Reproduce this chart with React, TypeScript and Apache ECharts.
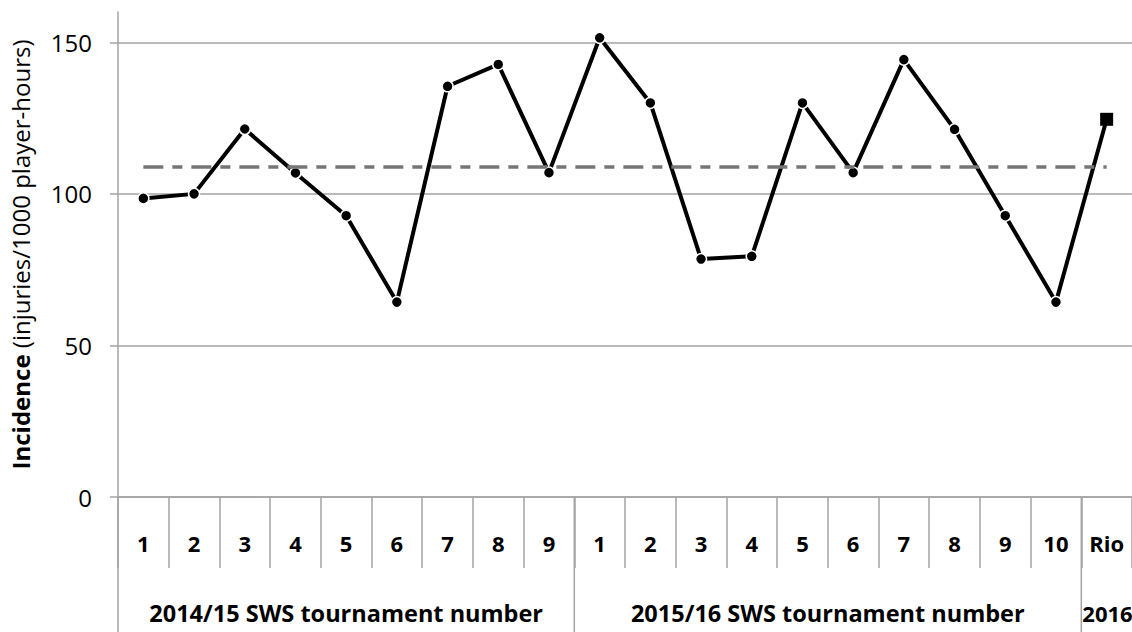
import React, { useEffect, useRef } from "react";
import * as echarts from "echarts";

const categories = ["1", "2", "3", "4", "5", "6", "7", "8", "9", "1", "2", "3", "4", "5", "6", "7", "8", "9", "10", "Rio"];
const incidence = [98.5, 100, 121.4, 106.9, 92.8, 64.3, 135.5, 142.7, 107, 151.5, 130, 78.5, 79.4, 130, 107, 144.3, 121.3, 92.8, 64.3, 124.6];
const meanIncidence = 109;
const groupLabels = ["2014/15 SWS tournament number", "2015/16 SWS tournament number", "2016"];
const groupSizes = [9, 10, 1];
const yTicks = [0, 50, 100, 150];

const FONT = '"Open Sans", "DejaVu Sans", sans-serif';
const GRID = "#a3a3a3";

export default function App() {
  const ref = useRef<HTMLDivElement>(null);
  useEffect(() => {
    if (!ref.current) return;
    const chart = echarts.init(ref.current, null, { renderer: "svg" });
    const lastIdx = incidence.length - 1;
    const seriesData = incidence.map((v, i) =>
      i === lastIdx ? { value: v, symbol: "rect", symbolSize: 13, itemStyle: { borderWidth: 0 } } : v
    );
    const option: any = {
      animation: false,
      backgroundColor: "#fff",
      grid: { left: 118, top: 12, width: 1020, height: 485, containLabel: false },
      xAxis: {
        type: "category",
        data: categories,
        boundaryGap: true,
        axisLine: { show: true, lineStyle: { color: GRID, width: 1.5 } },
        axisTick: { show: true, interval: 0, length: 71, lineStyle: { color: GRID, width: 1.5 } },
        axisLabel: { interval: 0, margin: 35, color: "#000", fontFamily: FONT, fontWeight: "bold", fontSize: 22 },
        splitLine: { show: false },
      },
      yAxis: {
        type: "value",
        min: 0,
        max: 160,
        interval: 50,
        name: "{b|Incidence} {n|(injuries/1000 player-hours)}",
        nameLocation: "middle",
        nameRotate: 90,
        nameGap: 86,
        nameTextStyle: {
          fontFamily: FONT,
          fontSize: 24,
          color: "#000",
          rich: {
            b: { fontFamily: FONT, fontSize: 24, fontWeight: "bold", color: "#000" },
            n: { fontFamily: FONT, fontSize: 24, color: "#000" },
          },
        },
        axisLine: { show: true, lineStyle: { color: GRID, width: 1.5 } },
        axisTick: { show: true, length: 8, customValues: yTicks, lineStyle: { color: GRID, width: 1.5 } },
        axisLabel: {
          margin: 26,
          color: "#000",
          fontFamily: FONT,
          fontSize: 24,
          customValues: yTicks,
          formatter: (v: number) => (yTicks.indexOf(v) >= 0 ? String(v) : ""),
        },
        splitLine: { show: true, lineStyle: { color: [GRID, GRID, GRID, GRID, "rgba(0,0,0,0)"], width: 1.5 } },
      },
      series: [
        {
          type: "line",
          data: seriesData,
          symbol: "circle",
          symbolSize: 11,
          lineStyle: { color: "#000", width: 4 },
          itemStyle: { color: "#000", borderColor: "#fff", borderWidth: 1.5 },
          z: 3,
          markLine: {
            silent: true,
            symbol: ["none", "none"],
            label: { show: false },
            lineStyle: { color: "#767676", width: 3.5, type: [20, 9, 10, 9] },
            data: [[{ coord: [0, meanIncidence] }, { coord: [lastIdx, meanIncidence] }]],
          },
        },
      ],
    };
    chart.setOption(option);

    const px = (i: number) => chart.convertToPixel({ xAxisIndex: 0 }, i) as number;
    const y0 = chart.convertToPixel({ yAxisIndex: 0 }, 0) as number;
    const bottom = 632;
    const graphics: any[] = [];
    let start = 0;
    const step = px(1) - px(0);
    const leftEdge = px(0) - step / 2;
    graphics.push({ type: "line", shape: { x1: leftEdge, y1: y0, x2: leftEdge, y2: bottom }, style: { stroke: GRID, lineWidth: 1.5 } });
    groupSizes.forEach((n, g) => {
      const l = px(start) - step / 2;
      const r = px(start + n - 1) + step / 2;
      if (g > 0) {
        graphics.push({ type: "line", shape: { x1: l, y1: y0, x2: l, y2: bottom }, style: { stroke: GRID, lineWidth: 1.5 } });
      }
      const isLast = g === groupSizes.length - 1;
      graphics.push({
        type: "text",
        x: isLast ? l + 1 : (l + r) / 2,
        y: 613,
        style: {
          text: groupLabels[g],
          fill: "#000",
          fontFamily: FONT,
          fontSize: isLast ? 22 : 23.5,
          fontWeight: "bold",
          align: isLast ? "left" : "center",
          textAlign: isLast ? "left" : "center",
          verticalAlign: "middle",
          textVerticalAlign: "middle",
        },
      });
      start += n;
    });
    chart.setOption({ graphic: graphics });
    return () => chart.dispose();
  }, []);
  return <div ref={ref} style={{ position: "fixed", left: 0, top: 0, width: 1132, height: 632 }} />;
}
